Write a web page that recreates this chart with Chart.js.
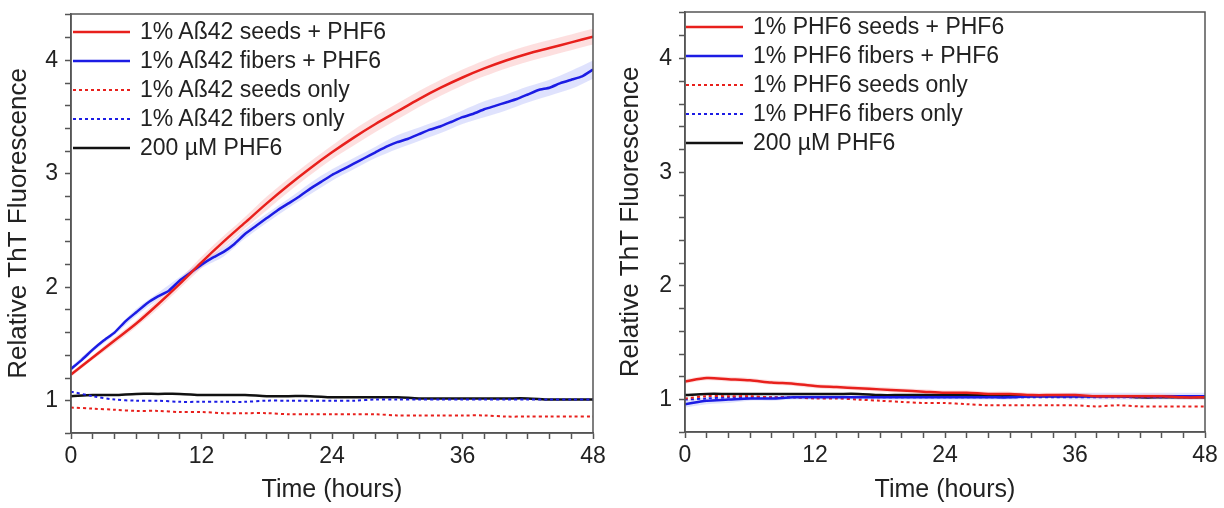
<!DOCTYPE html>
<html>
<head>
<meta charset="utf-8">
<script src="https://cdn.jsdelivr.net/npm/chart.js@4.4.0/dist/chart.umd.min.js"></script>
<style>
  body { margin: 0; background: #fff; font-family: "Liberation Sans", Arial, sans-serif; }
  #wrap { position: relative; width: 1224px; height: 508px; }
  .panel { position: absolute; top: 0; width: 612px; height: 508px; }
  .legend { position: absolute; font-size: 23px; color: #222; }
  .legend div { display: flex; align-items: center; height: 29px; white-space: nowrap; }
  .legend svg { margin-right: 10px; }
</style>
</head>
<body>
<div id="wrap">
  <div class="panel" style="left:0"><canvas id="left"></canvas></div>
  <div class="panel" style="left:612px"><canvas id="right"></canvas></div>
  <div class="legend" id="legLeft" style="left:73px;top:17px"></div>
  <div class="legend" id="legRight" style="left:686px;top:12px"></div>
</div>
<script>
// time points (hours)
const hours2 = [0, 2, 4, 6, 8, 10, 12, 14, 16, 18, 20, 22, 24, 26, 28, 30, 32, 34, 36, 38, 40, 42, 44, 46, 48];
const hours1 = [0, 1, 2, 3, 4, 5, 6, 7, 8, 9, 10, 11, 12, 13, 14, 15, 16, 17, 18, 19, 20, 21, 22, 23, 24,
  25, 26, 27, 28, 29, 30, 31, 32, 33, 34, 35, 36, 37, 38, 39, 40, 41, 42, 43, 44, 45, 46, 47, 48];
const xTickLabels = [0, 12, 24, 36, 48];
const yTickLabels = [1, 2, 3, 4];

// left panel: Abeta42 seeds / fibers
const abSeedsPhf6 = [1.23, 1.38, 1.53, 1.68, 1.85, 2.03, 2.22, 2.40, 2.57, 2.74, 2.90, 3.05, 3.19,
  3.32, 3.44, 3.55, 3.66, 3.76, 3.85, 3.93, 4.00, 4.06, 4.11, 4.16, 4.21];
const abSeedsErr = [0.02, 0.02, 0.03, 0.03, 0.04, 0.04, 0.05, 0.05, 0.05, 0.06, 0.06, 0.06, 0.06,
  0.07, 0.07, 0.07, 0.07, 0.07, 0.07, 0.07, 0.07, 0.07, 0.07, 0.07, 0.07];
const abFibersPhf6 = [1.28, 1.36, 1.45, 1.53, 1.60, 1.70, 1.78, 1.86, 1.92, 1.97, 2.06, 2.13, 2.20,
  2.26, 2.31, 2.38, 2.47, 2.54, 2.61, 2.68, 2.74, 2.80, 2.87, 2.93, 2.99, 3.04, 3.09, 3.14, 3.19,
  3.24, 3.28, 3.31, 3.35, 3.39, 3.42, 3.46, 3.50, 3.53, 3.57, 3.60, 3.63, 3.66, 3.70, 3.74, 3.76,
  3.80, 3.83, 3.86, 3.92];
const abFibersErr = [0.02, 0.02, 0.02, 0.03, 0.03, 0.03, 0.03, 0.04, 0.04, 0.04, 0.04, 0.05, 0.05,
  0.05, 0.05, 0.06, 0.06, 0.06, 0.06, 0.07, 0.07, 0.07, 0.07, 0.08, 0.08];
const abSeedsOnly = [0.94, 0.93, 0.92, 0.91, 0.91, 0.90, 0.90, 0.89, 0.89, 0.89, 0.88, 0.88, 0.88,
  0.88, 0.88, 0.87, 0.87, 0.87, 0.87, 0.87, 0.86, 0.86, 0.86, 0.86, 0.86];
const abFibersOnly = [1.08, 1.04, 1.01, 1.00, 1.00, 0.99, 0.99, 0.99, 0.99, 1.00, 1.00, 1.00, 1.00,
  1.00, 1.01, 1.01, 1.01, 1.01, 1.01, 1.01, 1.01, 1.01, 1.01, 1.01, 1.01];
const abPhf6 = [1.04, 1.05, 1.05, 1.06, 1.06, 1.06, 1.05, 1.05, 1.05, 1.04, 1.04, 1.04, 1.03,
  1.03, 1.03, 1.03, 1.02, 1.02, 1.02, 1.02, 1.02, 1.02, 1.01, 1.01, 1.01];

// right panel: PHF6 seeds / fibers
const pSeedsPhf6 = [1.16, 1.19, 1.18, 1.17, 1.15, 1.14, 1.12, 1.11, 1.10, 1.09, 1.08, 1.07, 1.06,
  1.06, 1.05, 1.05, 1.04, 1.04, 1.04, 1.03, 1.03, 1.03, 1.03, 1.02, 1.02];
const pSeedsErr = [0.02, 0.02, 0.02, 0.02, 0.02, 0.02, 0.02, 0.02, 0.02, 0.02, 0.02, 0.02, 0.02,
  0.02, 0.02, 0.02, 0.02, 0.02, 0.02, 0.02, 0.02, 0.02, 0.02, 0.02, 0.02];
const pFibersPhf6 = [0.96, 0.99, 1.00, 1.01, 1.01, 1.02, 1.02, 1.02, 1.02, 1.02, 1.02, 1.02, 1.02,
  1.02, 1.02, 1.02, 1.03, 1.03, 1.03, 1.03, 1.03, 1.03, 1.03, 1.03, 1.03];
const pFibersErr = [0.03, 0.03, 0.03, 0.02, 0.02, 0.02, 0.02, 0.02, 0.02, 0.02, 0.02, 0.02, 0.02,
  0.02, 0.02, 0.02, 0.02, 0.02, 0.03, 0.03, 0.03, 0.03, 0.03, 0.03, 0.03];
const pSeedsOnly = [1.01, 1.03, 1.03, 1.03, 1.02, 1.02, 1.01, 1.01, 1.00, 0.99, 0.98, 0.97, 0.97,
  0.96, 0.95, 0.95, 0.95, 0.95, 0.95, 0.94, 0.95, 0.94, 0.94, 0.94, 0.94];
const pFibersOnly = [1.00, 1.01, 1.02, 1.02, 1.02, 1.02, 1.02, 1.02, 1.02, 1.02, 1.02, 1.02, 1.02,
  1.02, 1.02, 1.02, 1.02, 1.02, 1.02, 1.02, 1.02, 1.02, 1.02, 1.02, 1.02];
const pPhf6 = [1.04, 1.05, 1.05, 1.05, 1.05, 1.05, 1.05, 1.05, 1.05, 1.04, 1.04, 1.04, 1.04,
  1.04, 1.04, 1.03, 1.03, 1.03, 1.03, 1.03, 1.03, 1.02, 1.02, 1.02, 1.02];

const RED = '#e8201c';
const BLUE = '#1c1ce4';
const BLACK = '#111111';
const AXIS = '#555555';
const FONT = '"Liberation Sans", Arial, sans-serif';

const pts = (xs, ys) => xs.map((x, i) => ({x: x, y: ys[i]}));

function line(label, xs, ys, color, dotted) {
  return {
    label: label,
    data: pts(xs, ys),
    borderColor: color,
    borderWidth: dotted ? 2 : 2.5,
    borderDash: dotted ? [3, 3] : [],
    pointRadius: 0,
    tension: 0.3,
    fill: false
  };
}

// error band: upper filled down to lower
function band(xs, mean, err, color) {
  const m = i => mean[mean.length === xs.length ? i : i * 2];
  return [
    { label: '', data: xs.map((x, i) => ({x: x, y: m(i) + err[i]})), borderWidth: 0, pointRadius: 0,
      backgroundColor: color, fill: '+1', tension: 0.3, order: 10 },
    { label: '', data: xs.map((x, i) => ({x: x, y: m(i) - err[i]})), borderWidth: 0, pointRadius: 0,
      fill: false, tension: 0.3, order: 11 }
  ];
}

const frame = {
  id: 'frame',
  afterDraw(chart) {
    const {ctx, chartArea: a} = chart;
    ctx.save();
    ctx.strokeStyle = AXIS;
    ctx.lineWidth = 1.5;
    ctx.strokeRect(a.left, a.top, a.right - a.left, a.bottom - a.top);
    ctx.restore();
  }
};

function makeChart(id, lines, bands, pad, yWidth) {
  new Chart(document.getElementById(id), {
    type: 'line',
    data: { datasets: lines.concat(bands) },
    plugins: [frame],
    options: {
      responsive: true,
      maintainAspectRatio: false,
      animation: false,
      layout: { padding: pad },
      plugins: { legend: { display: false }, tooltip: { enabled: false } },
      scales: {
        x: {
          type: 'linear', min: 0, max: 48,
          afterFit: s => { s.height = 508 - pad.bottomArea; s.paddingLeft = 0; s.paddingRight = 0; },
          ticks: {
            stepSize: 2, autoSkip: false, maxRotation: 0, padding: 4,
            color: '#222', font: { family: FONT, size: 23 },
            callback: v => xTickLabels.includes(v) ? String(v) : ''
          },
          grid: { drawOnChartArea: false, tickLength: 6, color: AXIS, tickWidth: 1.5 },
          border: { color: AXIS, width: 1.5 },
          title: { display: true, text: 'Time (hours)', color: '#222',
            font: { family: FONT, size: 25 }, padding: { top: 0, bottom: 3 } }
        },
        y: {
          min: 0.715, max: 4.41,
          afterFit: s => { s.width = yWidth; s.paddingTop = 0; s.paddingBottom = 0; },
          ticks: {
            stepSize: 0.2, autoSkip: false, padding: 7, color: '#222', font: { family: FONT, size: 23 },
            callback: v => yTickLabels.includes(Math.round(v * 100) / 100) ? String(Math.round(v)) : ''
          },
          grid: { drawOnChartArea: false, tickLength: 6, color: AXIS, tickWidth: 1.5 },
          border: { color: AXIS, width: 1.5 },
          title: { display: true, text: 'Relative ThT Fluorescence', color: '#222',
            font: { family: FONT, size: 26 }, padding: { top: 3, bottom: 0 } }
        }
      }
    }
  });
}

function makeLegend(id, lines) {
  const box = document.getElementById(id);
  lines.forEach(l => {
    const row = document.createElement('div');
    const dash = l.borderDash.length ? 'stroke-dasharray="3 3"' : '';
    row.innerHTML = '<svg width="57" height="6"><line x1="0" y1="3" x2="57" y2="3" stroke="' +
      l.borderColor + '" stroke-width="' + l.borderWidth + '" ' + dash + '/></svg><span>' + l.label + '</span>';
    box.appendChild(row);
  });
}

const leftLines = [
  line('1% Aß42 seeds + PHF6', hours2, abSeedsPhf6, RED, false),
  line('1% Aß42 fibers + PHF6', hours1, abFibersPhf6, BLUE, false),
  line('1% Aß42 seeds only', hours2, abSeedsOnly, RED, true),
  line('1% Aß42 fibers only', hours2, abFibersOnly, BLUE, true),
  line('200 µM PHF6', hours2, abPhf6, BLACK, false)
];
leftLines[1].tension = 0.1;
const leftBands = band(hours2, abSeedsPhf6, abSeedsErr, 'rgba(250,150,150,0.3)')
  .concat(band(hours2, abFibersPhf6, abFibersErr, 'rgba(150,160,250,0.3)'));

const rightLines = [
  line('1% PHF6 seeds + PHF6', hours2, pSeedsPhf6, RED, false),
  line('1% PHF6 fibers + PHF6', hours2, pFibersPhf6, BLUE, false),
  line('1% PHF6 seeds only', hours2, pSeedsOnly, RED, true),
  line('1% PHF6 fibers only', hours2, pFibersOnly, BLUE, true),
  line('200 µM PHF6', hours2, pPhf6, BLACK, false)
];
const rightBands = band(hours2, pSeedsPhf6, pSeedsErr, 'rgba(250,150,150,0.3)')
  .concat(band(hours2, pFibersPhf6, pFibersErr, 'rgba(150,160,250,0.3)'));

makeChart('left', leftLines, leftBands, { left: 0, right: 19, top: 14, bottom: 0, bottomArea: 433 }, 71);
makeChart('right', rightLines, rightBands, { left: 0, right: 19, top: 12, bottom: 0, bottomArea: 432 }, 73);
makeLegend('legLeft', leftLines);
makeLegend('legRight', rightLines);
</script>
</body>
</html>
